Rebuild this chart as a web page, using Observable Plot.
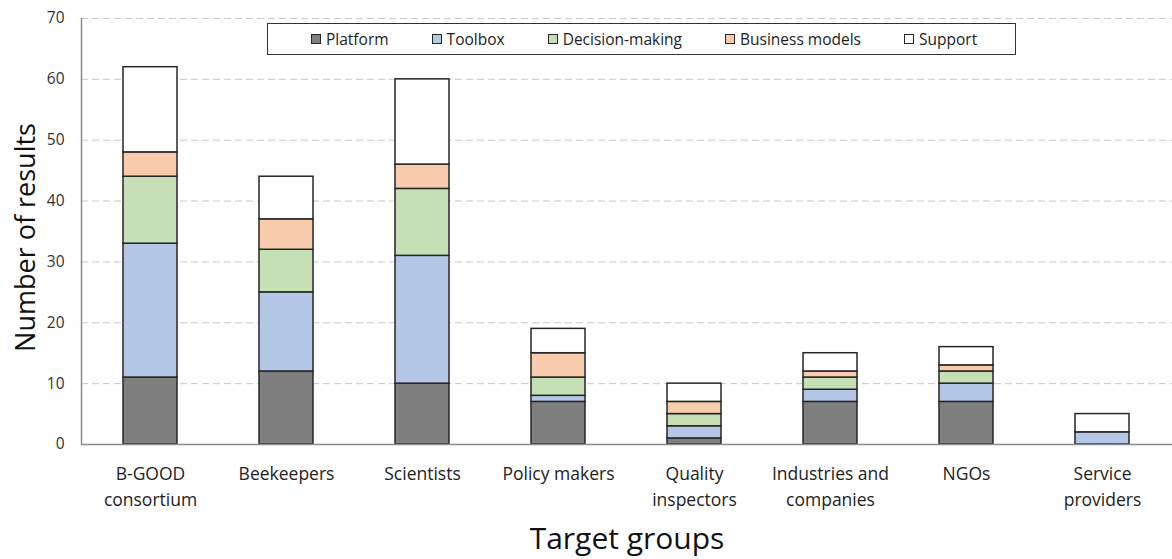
<!DOCTYPE html>
<html>
<head>
<meta charset="utf-8">
<script src="https://cdn.jsdelivr.net/npm/d3@7"></script>
<script src="https://cdn.jsdelivr.net/npm/@observablehq/plot@0.6"></script>
<style>
  html, body { margin: 0; padding: 0; background: #fff; }
  #wrap { position: relative; width: 1172px; height: 559px; font-family: "Open Sans", sans-serif; }
  #legend {
    position: absolute; left: 267px; top: 23px; width: 747px; height: 30px;
    border: 1.5px solid #333; background: #fff; box-sizing: content-box;
    display: flex; align-items: center; justify-content: flex-start;
    padding-left: 0; font-size: 15.5px; color: #222; white-space: nowrap; overflow: hidden;
  }
  .item { display: flex; align-items: center; margin-right: 43px; flex: 0 0 auto; white-space: nowrap; }
  .item:first-child { margin-left: 43px; }
  .sw { width: 8px; height: 8px; border: 1.2px solid #262626; margin-right: 5px; flex: 0 0 auto; }
</style>
</head>
<body>
<div id="wrap"><div id="legend"></div></div>
<script>
const categories = ["B-GOOD consortium","Beekeepers","Scientists","Policy makers","Quality inspectors","Industries and companies","NGOs","Service providers"];
const tickLabels = ["B-GOOD\nconsortium","Beekeepers","Scientists","Policy makers","Quality\ninspectors","Industries and\ncompanies","NGOs","Service\nproviders"];
const series = ["Platform","Toolbox","Decision-making","Business models","Support"];
const colors = ["#7f7f7f","#b4c7e7","#c5e0b4","#f8cbad","#ffffff"];
const platform =       [11, 12, 10, 7, 1, 7, 7, 0];
const toolbox =        [22, 13, 21, 1, 2, 2, 3, 2];
const decisionMaking = [11,  7, 11, 3, 2, 2, 2, 0];
const businessModels = [ 4,  5,  4, 4, 2, 1, 1, 0];
const support =        [14,  7, 14, 4, 3, 3, 3, 3];
const yTicks = [0, 10, 20, 30, 40, 50, 60, 70];

const valuesBySeries = [platform, toolbox, decisionMaking, businessModels, support];
const data = [];
series.forEach((s, i) => categories.forEach((c, j) => data.push({category: c, series: s, value: valuesBySeries[i][j]})));

const labelOf = new Map(categories.map((c, i) => [c, tickLabels[i]]));
const font = "'Open Sans', sans-serif";

const chart = Plot.plot({
  width: 1172,
  height: 559,
  marginLeft: 81,
  marginRight: 0,
  marginTop: 18,
  marginBottom: 115,
  style: {fontFamily: font, background: "#fff"},
  x: {domain: categories, paddingInner: 0.6, paddingOuter: 0.3, axis: null},
  y: {domain: [0, 70], axis: null},
  color: {domain: series, range: colors},
  marks: [
    Plot.gridY(yTicks.slice(1), {stroke: "#c8c8c8", strokeOpacity: 1, strokeDasharray: "7,4", strokeWidth: 1}),
    Plot.axisY({ticks: yTicks, tickSize: 0, tickPadding: 17, fontSize: 15.5, color: "#333", label: null}),
    Plot.barY(data, {x: "category", y: "value", fill: "series", order: series, stroke: "#262626", strokeWidth: 1.5, inset: 0}),
    Plot.ruleY([0], {stroke: "#8c8c8c", strokeWidth: 1.5}),
    Plot.frame({anchor: "left", stroke: "#8c8c8c", strokeWidth: 1.5}),
    Plot.text(categories, {x: d => d, y: 0, text: d => labelOf.get(d), lineAnchor: "top", dy: 17, fontSize: 17.5, lineHeight: 1.49, fill: "#222"}),
    Plot.text(["Number of results"], {frameAnchor: "left", textAnchor: "middle", lineAnchor: "middle", rotate: -90, dx: -55, dy: 6, fontSize: 27, fill: "#111"}),
    Plot.text(["Target groups"], {frameAnchor: "bottom", textAnchor: "middle", lineAnchor: "middle", dy: 95, fontSize: 30, fill: "#111"})
  ]
});
const wrap = document.getElementById("wrap");
wrap.insertBefore(chart, wrap.firstChild);

const legend = document.getElementById("legend");
series.forEach((s, i) => {
  const it = document.createElement("div");
  it.className = "item";
  const sw = document.createElement("div");
  sw.className = "sw";
  sw.style.background = colors[i];
  const t = document.createElement("span");
  t.textContent = s;
  it.appendChild(sw); it.appendChild(t);
  legend.appendChild(it);
});
</script>
</body>
</html>
